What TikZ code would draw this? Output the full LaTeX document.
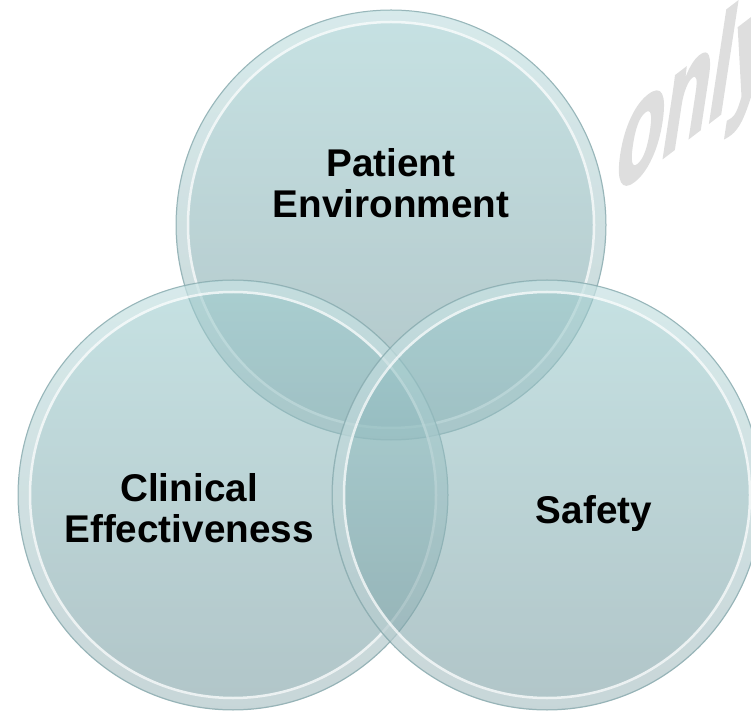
\documentclass[tikz,border=0pt]{standalone}
\usepackage{fontspec}
\setmainfont{Liberation Sans}
\newfontfamily\markfont[FakeBold=2.5]{Liberation Sans}
\definecolor{circtop}{RGB}{160,206,208}
\definecolor{circbot}{RGB}{124,158,163}
\definecolor{circline}{RGB}{140,172,176}
\definecolor{markgray}{RGB}{222,222,222}
\begin{document}
\begin{tikzpicture}[
    circfill/.style={top color=circtop, bottom color=circbot, fill opacity=0.6},
    circrim/.style={draw=white, line width=0.200000cm, draw opacity=0.30},
    circshine/.style={draw=white, line width=0.050000cm, draw opacity=0.75},
    circedge/.style={draw=circline, line width=0.020000cm, draw opacity=0.85},
    label/.style={align=center, font=\fontsize{22}{23}\selectfont\bfseries}]
                \useasboundingbox (0,0) rectangle (15.020000,14.260000);
                \clip (0,0) rectangle (15.020000,14.260000);
                
                % Drawing watermark
                \begin{scope}[cm={0.720000,0.550000,0.220000,1.450000,(12.236000,10.330000)}]
                \node [transform shape, anchor=base west, text=markgray, inner sep=0pt,
                       font=\fontsize{60}{60}\markfont\bfseries] (mark) at (0,0) {only};%
                \end{scope}
                
                % Drawing circle P (top)
                \shade [circfill] (7.820000,9.760000) circle (4.300000);%
                \draw [circrim] (7.820000,9.760000) circle (4.180000);%
                \draw [circshine] (7.820000,9.760000) circle (4.060000);%
                \draw [circedge] (7.820000,9.760000) circle (4.300000);%
                
                % Drawing circle C (left)
                \shade [circfill] (4.660000,4.360000) circle (4.300000);%
                \draw [circrim] (4.660000,4.360000) circle (4.180000);%
                \draw [circshine] (4.660000,4.360000) circle (4.060000);%
                \draw [circedge] (4.660000,4.360000) circle (4.300000);%
                
                % Drawing circle S (right)
                \shade [circfill] (10.940000,4.360000) circle (4.300000);%
                \draw [circrim] (10.940000,4.360000) circle (4.180000);%
                \draw [circshine] (10.940000,4.360000) circle (4.060000);%
                \draw [circedge] (10.940000,4.360000) circle (4.300000);%
                
                % Marking circles by labels
                \draw (7.820000,10.600000) node [label] (patient) {Patient\\Environment};%
                \draw (3.780000,4.100000) node [label] (clinical) {Clinical\\Effectiveness};%
                \draw (11.880000,3.980000) node [label] (safety) {Safety};%
\end{tikzpicture}
\end{document}
